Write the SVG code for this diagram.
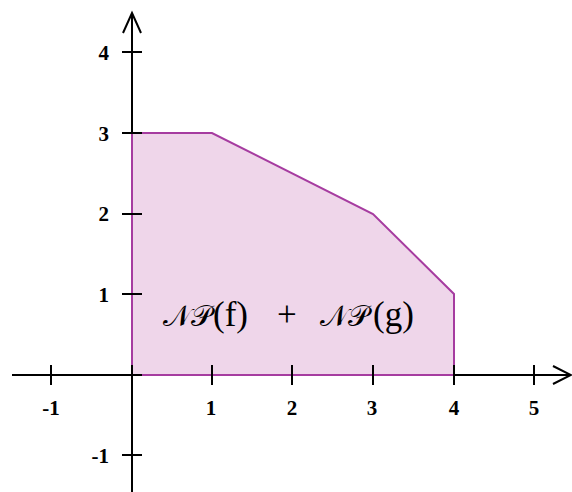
<svg xmlns="http://www.w3.org/2000/svg" width="572" height="492" viewBox="0 0 572 492">
<style>
.ax{stroke:#000;stroke-width:2;fill:none}
.tk{stroke:#000;stroke-width:2}
.num{font-family:"Liberation Serif","Times New Roman",serif;font-weight:bold;font-size:21px;fill:#000}
.lbl{font-family:"Liberation Serif","DejaVu Serif",serif;font-size:35px;fill:#000}
.scr{font-family:"DejaVu Serif","Liberation Serif",serif;font-size:29px}
</style>
<rect width="572" height="492" fill="#fff"/>
<g id="axes">
<line class="ax" x1="12" y1="375" x2="571" y2="375"/>
<line class="ax" x1="132" y1="492" x2="132" y2="13"/>
<polyline class="ax" points="553,366 571,375 553,384"/>
<polyline class="ax" points="123,33 132,13 141,33"/>
</g>
<g id="region">
<polygon points="132,375 132,133 212,133 373,214 454,294 454,375" fill="#efd6ea" stroke="#a63ca0" stroke-width="2"/>
</g>
<g id="ticks">
<line class="tk" x1="51" y1="365" x2="51" y2="385"/>
<line class="tk" x1="132" y1="365" x2="132" y2="385"/>
<line class="tk" x1="212" y1="365" x2="212" y2="385"/>
<line class="tk" x1="292" y1="365" x2="292" y2="385"/>
<line class="tk" x1="373" y1="365" x2="373" y2="385"/>
<line class="tk" x1="454" y1="365" x2="454" y2="385"/>
<line class="tk" x1="534" y1="365" x2="534" y2="385"/>
<line class="tk" x1="122" y1="52" x2="142" y2="52"/>
<line class="tk" x1="122" y1="133" x2="142" y2="133"/>
<line class="tk" x1="122" y1="214" x2="142" y2="214"/>
<line class="tk" x1="122" y1="294" x2="142" y2="294"/>
<line class="tk" x1="122" y1="375" x2="142" y2="375"/>
<line class="tk" x1="122" y1="455" x2="142" y2="455"/>
</g>
<g id="xlabels" class="num" text-anchor="middle">
<text x="51" y="415">-1</text>
<text x="211" y="415">1</text>
<text x="292" y="415">2</text>
<text x="372" y="415">3</text>
<text x="454" y="415">4</text>
<text x="534" y="415">5</text>
</g>
<g id="ylabels" class="num" text-anchor="end">
<text x="109" y="60">4</text>
<text x="109" y="141">3</text>
<text x="109" y="221">2</text>
<text x="109" y="302">1</text>
<text x="109" y="463">-1</text>
</g>
<g id="label">
<text class="lbl" y="326"><tspan class="scr" x="163">𝒩𝒫</tspan><tspan x="213">(f)</tspan><tspan x="277">+</tspan><tspan class="scr" x="320">𝒩𝒫</tspan><tspan x="373">(g)</tspan></text>
</g>
</svg>
